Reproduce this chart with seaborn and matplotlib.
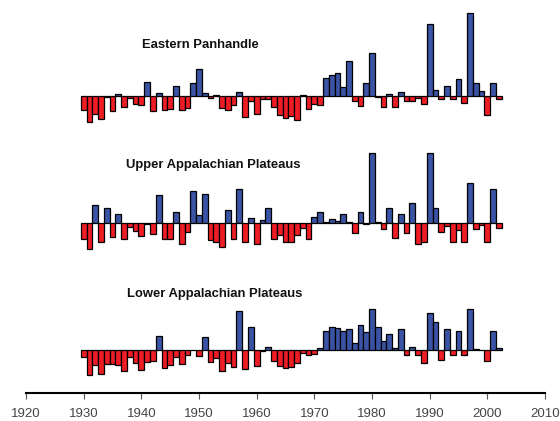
import numpy as np
import pandas as pd
import matplotlib
matplotlib.use("Agg")
import matplotlib.pyplot as plt
import seaborn as sns

# years 1930-2002, one bar per year
years = list(range(1930, 2003))

eastern_panhandle = [
    -14, -26, -18, -23, -1, -15, 2, -11, -2, -8,
    -9, 14, -15, 3, -14, -13, 10, -14, -12, 13,
    27, 3, -2, 1, -12, -14, -9, 4, -21, -5,
    -18, -3, -3, -11, -19, -22, -20, -24, 1, -13,
    -8, -9, 18, 21, 23, 9, 35, -5, -10, 13,
    43, -1, -11, 2, -11, 4, -5, -5, -2, -8,
    72, 6, -3, 10, -3, 17, -7, 83, 13, 5,
    -19, 13, -3,
]

upper_plateaus = [
    -16, -26, 18, -19, 15, -14, 9, -16, -4, -8,
    -13, -1, -11, 28, -16, -16, 11, -21, -9, 32,
    8, 29, -17, -19, -24, 13, -16, 34, -19, 5,
    -21, 3, 15, -16, -12, -19, -19, -12, -5, -16,
    6, 11, 0.5, 4, 2, 9, 1, -10, 11, -1,
    70, 1, -6, 15, -15, 9, -10, 20, -21, -19,
    70, 15, -9, -3, -19, -7, -19, 40, -6, -2,
    -19, 34, -5,
]

lower_plateaus = [
    -7, -25, -15, -24, -14, -14, -15, -21, -7, -13,
    -20, -12, -11, 14, -18, -15, -7, -14, -5, 0.5,
    -6, 13, -12, -8, -21, -13, -17, 39, -19, 23,
    -16, -1, 3, -11, -16, -18, -17, -13, -3, -5,
    -4, 2, 19, 23, 22, 19, 21, 7, 25, 18,
    41, 23, 9, 16, 2, 21, -5, 3, -5, -13,
    37, 28, -10, 21, -5, 19, -5, 41, 1, 0.3,
    -11, 19, 2,
]

titles = ["Eastern Panhandle", "Upper Appalachian Plateaus", "Lower Appalachian Plateaus"]
series = [eastern_panhandle, upper_plateaus, lower_plateaus]
tick_years = list(range(1920, 2011, 10))

BLUE = "#3a53a4"
RED = "#ee1c24"

W, H = 560, 421
fig = plt.figure(figsize=(W / 100, H / 100), dpi=100)

# pixel layout: (top px, bottom px, baseline px) for each panel
panels = [(5, 135, 96.0), (135, 262, 222.7), (262, 392.5, 350.0)]
title_pos = [(1950.3, 96 - 45), (1952.4, 222.7 - 165), (1952.8, 350 - 293.5)]
x_left, x_right = 26, 545

for i, (vals, title) in enumerate(zip(series, titles)):
    top, bottom, base = panels[i]
    ax = fig.add_axes([x_left / W, 1 - bottom / H, (x_right - x_left) / W, (bottom - top) / H])
    df = pd.DataFrame({"year": years, "value": vals})
    df["sign"] = np.where(df["value"] >= 0, "pos", "neg")
    sns.barplot(data=df, x="year", y="value", hue="sign", palette={"pos": BLUE, "neg": RED},
                native_scale=True, dodge=False, width=1.0, edgecolor="black",
                linewidth=0.9, saturation=1, legend=False, ax=ax)
    ax.set_xlim(1920, 2010)
    ax.set_ylim(base - bottom, base - top)
    ax.set_xlabel("")
    ax.set_ylabel("")
    ax.set_yticks([])
    for s in ["top", "right", "left"]:
        ax.spines[s].set_visible(False)
    tx, ty = title_pos[i]
    ax.text(tx, ty, title, ha="center", va="center", fontsize=9.4,
            fontweight="bold", family="Liberation Sans", color="#111111")
    if i < 2:
        ax.spines["bottom"].set_visible(False)
        ax.set_xticks([])
    else:
        ax.spines["bottom"].set_linewidth(1.5)
        ax.set_xticks(tick_years)
        ax.set_xticklabels([str(y) for y in tick_years], family="Liberation Sans",
                           fontsize=9.5, color="#444444")
        ax.tick_params(axis="x", length=4, width=0.8, pad=7, color="#555555")

fig.savefig("out.png", dpi=100)
